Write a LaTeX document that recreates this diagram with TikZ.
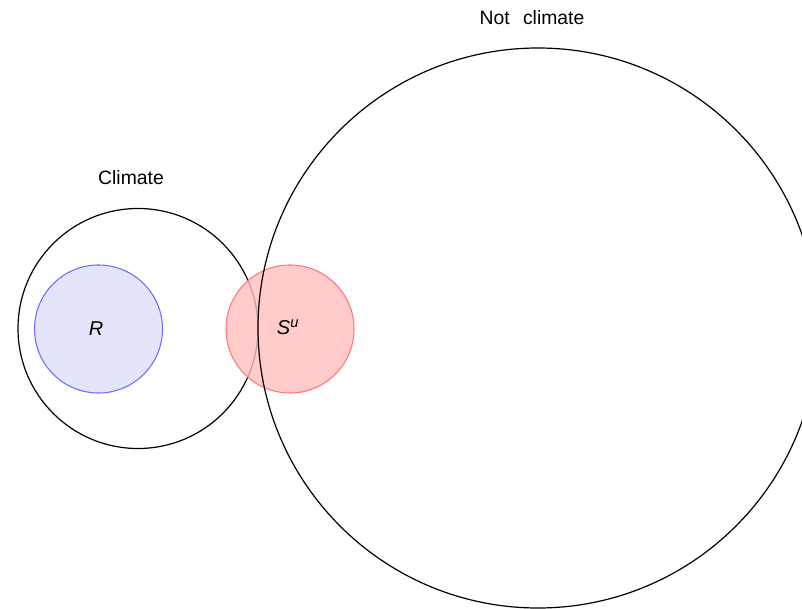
\documentclass[tikz,border=0pt]{standalone}
\usepackage{fontspec}
\setmainfont{Liberation Sans}
\begin{document}
\begin{tikzpicture}[x=0.75pt,y=-0.75pt,
  setline/.style={draw=black,line width=0.9pt},
  lbl/.style={font=\fontsize{14.5}{17}\selectfont,inner sep=0pt},
  sym/.style={font=\fontsize{15}{18}\selectfont\itshape,inner sep=0pt}]
\useasboundingbox (0,0) rectangle (802,609);
\fill[white] (0,0) rectangle (802,609);
% climate set
\draw[setline] (138,328.5) circle[radius=120];
% R
\draw[draw={rgb,255:red,110;green,110;blue,255},fill={rgb,255:red,228;green,228;blue,251},line width=0.8pt] (98.5,329) circle[radius=64];
% S^u
\draw[draw={rgb,255:red,255;green,120;blue,120},fill={rgb,255:red,255;green,190;blue,190},fill opacity=0.8,line width=0.8pt] (290,329) circle[radius=64];
% not climate
\begin{scope}
\clip (0,0) rectangle (802,609);
\draw[setline] (538,328) circle[radius=280];
\end{scope}
\node[lbl] (cl) at (131,178) {Climate};
\node[lbl] (ncl) at (532,18) {Not\hspace{10pt}climate};
\node[sym] (r) at (96,329) {R};
\node[sym] (s) at (288,327) {S\textsuperscript{\fontsize{11}{12}\selectfont u}};
\end{tikzpicture}
\end{document}
